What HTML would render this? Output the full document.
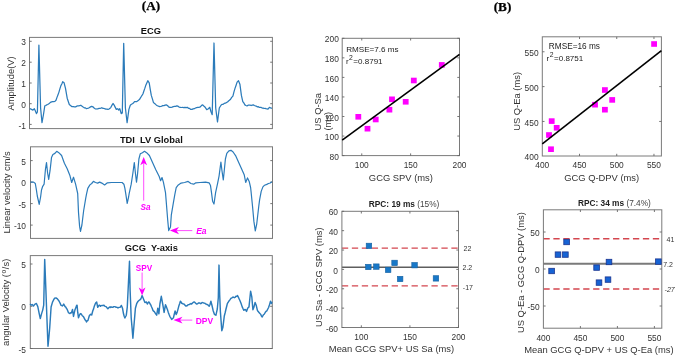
<!DOCTYPE html>
<html><head><meta charset="utf-8"><title>Figure</title>
<style>html,body{margin:0;padding:0;background:#fff;width:675px;height:357px;overflow:hidden}svg{display:block;will-change:transform}</style>
</head><body>
<svg width="675" height="357" viewBox="0 0 675 357">
<rect width="675" height="357" fill="#ffffff"/>
<text x="151.0" y="9.6" font-family='"Liberation Serif", serif' font-size="13.2" text-anchor="middle" font-weight="bold" font-style="normal" fill="#000" stroke="#000" stroke-width="0.25">(A)</text>
<text x="502.5" y="11.3" font-family='"Liberation Serif", serif' font-size="13.2" text-anchor="middle" font-weight="bold" font-style="normal" fill="#000" stroke="#000" stroke-width="0.25">(B)</text>
<rect x="29.5" y="37.4" width="242.90" height="91.20" fill="none" stroke="#7a7a7a" stroke-width="1.0"/>
<line x1="29.5" y1="124.4" x2="31.7" y2="124.4" stroke="#666" stroke-width="0.9"/>
<line x1="272.4" y1="124.4" x2="270.2" y2="124.4" stroke="#666" stroke-width="0.9"/>
<line x1="29.5" y1="103.7" x2="31.7" y2="103.7" stroke="#666" stroke-width="0.9"/>
<line x1="272.4" y1="103.7" x2="270.2" y2="103.7" stroke="#666" stroke-width="0.9"/>
<line x1="29.5" y1="83.0" x2="31.7" y2="83.0" stroke="#666" stroke-width="0.9"/>
<line x1="272.4" y1="83.0" x2="270.2" y2="83.0" stroke="#666" stroke-width="0.9"/>
<line x1="29.5" y1="62.2" x2="31.7" y2="62.2" stroke="#666" stroke-width="0.9"/>
<line x1="272.4" y1="62.2" x2="270.2" y2="62.2" stroke="#666" stroke-width="0.9"/>
<line x1="29.5" y1="41.3" x2="31.7" y2="41.3" stroke="#666" stroke-width="0.9"/>
<line x1="272.4" y1="41.3" x2="270.2" y2="41.3" stroke="#666" stroke-width="0.9"/>
<text x="26.0" y="128.5" font-family='"Liberation Sans", sans-serif' font-size="8.4" text-anchor="end" font-weight="normal" font-style="normal" fill="#333333" >-1</text>
<text x="26.0" y="107.8" font-family='"Liberation Sans", sans-serif' font-size="8.4" text-anchor="end" font-weight="normal" font-style="normal" fill="#333333" >0</text>
<text x="26.0" y="87.1" font-family='"Liberation Sans", sans-serif' font-size="8.4" text-anchor="end" font-weight="normal" font-style="normal" fill="#333333" >1</text>
<text x="26.0" y="66.3" font-family='"Liberation Sans", sans-serif' font-size="8.4" text-anchor="end" font-weight="normal" font-style="normal" fill="#333333" >2</text>
<text x="26.0" y="45.4" font-family='"Liberation Sans", sans-serif' font-size="8.4" text-anchor="end" font-weight="normal" font-style="normal" fill="#333333" >3</text>
<text x="150.8" y="33.6" font-family='"Liberation Sans", sans-serif' font-size="9.3" text-anchor="middle" font-weight="bold" font-style="normal" fill="#111" >ECG</text>
<text transform="translate(13.9,83.4) rotate(-90)" x="0" y="0" font-family='"Liberation Sans", sans-serif' font-size="9.4" text-anchor="middle" fill="#333333" >Amplitude(V)</text>
<polyline points="29.7,108.7 30.6,108.9 31.5,109.4 32.9,110.1 34.3,108.7 35.3,110.8 36.4,113.6 37.4,112.0 38.9,45.1 40.6,108.0 42.0,122.7 43.4,115.0 44.8,105.9 45.7,105.5 46.7,104.9 47.6,104.5 48.5,103.9 49.5,103.2 50.4,102.4 51.6,101.9 52.7,101.6 53.9,101.7 55.0,101.2 56.0,100.3 56.9,97.6 57.9,95.0 58.8,92.6 59.8,89.1 60.9,85.6 61.8,84.0 62.7,81.7 64.1,82.8 65.5,88.4 67.2,98.2 68.2,101.3 69.3,104.5 70.2,105.2 71.2,106.1 72.1,106.6 73.3,106.7 74.4,106.9 75.6,106.9 76.7,106.2 77.7,105.9 78.7,105.8 79.8,105.7 80.8,105.2 81.7,105.9 82.7,106.8 83.6,107.3 84.5,107.9 85.5,107.9 86.4,108.7 87.3,108.5 88.3,108.1 89.2,107.7 90.5,106.9 91.7,106.3 92.9,106.8 94.1,108.0 95.2,108.8 96.2,109.0 97.1,108.8 98.1,108.8 99.0,108.4 99.9,108.4 100.9,108.1 101.8,107.7 102.7,108.3 103.7,108.3 104.6,108.7 105.8,109.1 106.9,109.1 108.1,109.4 109.0,109.0 110.0,108.3 110.9,107.3 112.0,105.1 113.0,103.5 114.0,104.8 114.9,106.6 116.3,109.4 117.7,108.7 118.7,110.1 119.8,108.7 121.2,113.6 122.3,112.9 123.7,43.3 125.4,108.0 127.1,122.7 128.0,116.1 128.9,109.4 130.3,105.2 131.4,104.3 132.4,103.8 133.4,103.1 134.5,101.7 135.6,101.7 136.6,101.7 137.5,101.1 138.5,100.2 139.4,99.6 140.6,97.7 141.7,95.8 142.9,94.0 143.8,91.2 144.8,88.4 145.7,85.6 146.8,83.0 147.8,80.7 149.2,82.8 150.2,89.1 151.3,95.4 152.4,98.9 153.4,102.4 154.3,103.3 155.3,104.1 156.2,104.9 157.4,105.7 158.5,106.2 159.7,106.6 160.7,106.5 161.8,106.1 162.8,105.5 164.0,105.6 165.1,105.2 166.3,104.9 167.5,105.5 168.6,106.8 169.8,107.3 171.0,107.4 172.1,107.1 173.3,106.6 174.5,106.4 175.6,106.3 176.8,105.9 178.0,106.2 179.1,107.1 180.3,107.3 181.5,107.5 182.6,107.4 183.8,107.7 185.0,107.3 186.1,107.7 187.3,107.3 188.5,108.3 189.6,108.4 190.8,109.4 192.0,109.4 193.1,108.9 194.3,108.7 195.5,108.0 196.6,107.6 197.8,107.3 198.7,107.3 199.7,107.1 200.6,106.6 201.6,105.4 202.7,104.9 203.8,106.0 204.9,106.9 206.7,109.7 208.4,108.7 209.8,107.3 210.9,111.5 212.2,114.7 213.1,78.8 214.0,43.0 215.7,108.0 216.6,115.0 217.5,122.0 218.4,115.0 219.3,108.0 221.0,105.2 221.9,104.4 222.9,104.4 223.8,103.8 224.7,103.2 225.7,103.1 226.6,102.4 227.5,102.0 228.5,101.0 229.4,100.3 230.6,99.2 231.7,97.4 232.9,96.1 233.9,92.2 235.0,88.4 236.1,85.2 237.1,82.1 238.5,80.7 239.9,84.2 241.4,95.4 242.8,101.7 243.9,103.0 244.9,104.9 245.9,105.5 247.0,105.9 248.1,105.2 249.1,105.2 250.1,105.1 251.2,105.5 252.2,105.1 253.3,104.9 254.4,105.5 255.4,105.9 256.4,106.2 257.5,106.9 258.4,106.7 259.4,107.4 260.3,107.3 261.2,107.4 262.2,108.1 263.1,108.0 264.0,108.5 265.0,108.4 265.9,108.7 266.9,108.9 268.0,109.1 269.4,107.3 270.6,107.8 271.9,108.3" fill="none" stroke="#2b7bba" stroke-width="1.25" stroke-linejoin="round"/>
<rect x="30.5" y="146.8" width="242.00" height="91.60" fill="none" stroke="#7a7a7a" stroke-width="1.0"/>
<line x1="30.5" y1="160.6" x2="32.7" y2="160.6" stroke="#666" stroke-width="0.9"/>
<line x1="272.5" y1="160.6" x2="270.3" y2="160.6" stroke="#666" stroke-width="0.9"/>
<line x1="30.5" y1="182.1" x2="32.7" y2="182.1" stroke="#666" stroke-width="0.9"/>
<line x1="272.5" y1="182.1" x2="270.3" y2="182.1" stroke="#666" stroke-width="0.9"/>
<line x1="30.5" y1="203.6" x2="32.7" y2="203.6" stroke="#666" stroke-width="0.9"/>
<line x1="272.5" y1="203.6" x2="270.3" y2="203.6" stroke="#666" stroke-width="0.9"/>
<line x1="30.5" y1="225.1" x2="32.7" y2="225.1" stroke="#666" stroke-width="0.9"/>
<line x1="272.5" y1="225.1" x2="270.3" y2="225.1" stroke="#666" stroke-width="0.9"/>
<text x="26.0" y="164.7" font-family='"Liberation Sans", sans-serif' font-size="8.4" text-anchor="end" font-weight="normal" font-style="normal" fill="#333333" >5</text>
<text x="26.0" y="186.2" font-family='"Liberation Sans", sans-serif' font-size="8.4" text-anchor="end" font-weight="normal" font-style="normal" fill="#333333" >0</text>
<text x="26.0" y="207.7" font-family='"Liberation Sans", sans-serif' font-size="8.4" text-anchor="end" font-weight="normal" font-style="normal" fill="#333333" >-5</text>
<text x="26.0" y="229.2" font-family='"Liberation Sans", sans-serif' font-size="8.4" text-anchor="end" font-weight="normal" font-style="normal" fill="#333333" >-10</text>
<text x="151.3" y="142.6" font-family='"Liberation Sans", sans-serif' font-size="9.3" text-anchor="middle" font-weight="bold" font-style="normal" fill="#111" >TDI&#160; LV Global</text>
<text transform="translate(10.2,192.4) rotate(-90)" x="0" y="0" font-family='"Liberation Sans", sans-serif' font-size="9.4" text-anchor="middle" fill="#333333" >Linear velocity cm/s</text>
<polyline points="30.5,182.1 33.6,182.1 35.3,183.5 36.4,189.8 37.3,196.0 39.2,204.3 40.6,197.0 41.5,190.0 42.7,186.3 44.1,184.2 45.5,168.8 46.5,162.5 47.6,173.0 48.7,179.3 50.1,170.2 51.5,157.6 52.9,154.5 54.9,153.4 56.7,151.3 58.8,152.7 61.6,155.5 64.4,163.2 67.2,168.8 70.0,175.8 71.7,182.5 73.5,177.2 75.6,184.2 77.7,193.5 78.5,212.4 79.6,226.4 80.5,231.3 81.9,225.0 83.6,211.0 85.7,198.4 86.4,194.7 87.8,188.4 89.9,184.9 91.7,183.5 93.4,181.4 95.5,182.5 97.6,183.1 99.7,182.1 101.8,183.1 104.6,184.9 107.4,182.8 111.6,182.5 117.2,182.5 122.1,182.5 123.9,184.2 124.9,188.4 125.9,194.7 127.2,203.4 128.6,197.0 129.2,193.4 131.2,184.2 132.9,173.0 134.3,162.5 135.4,173.0 136.5,182.1 137.5,174.4 138.9,159.0 140.3,153.7 142.4,152.7 144.5,151.3 146.6,152.7 149.4,155.5 152.2,161.8 155.7,169.5 159.2,176.5 160.6,180.7 162.0,177.5 163.4,182.1 165.5,192.6 166.5,205.0 167.7,220.0 168.7,230.6 170.5,227.0 171.3,215.2 173.4,202.6 174.8,194.7 176.2,187.7 178.3,184.9 181.1,183.1 184.6,182.5 188.1,181.4 190.9,183.5 193.7,184.2 195.8,182.8 200.0,182.5 205.6,182.1 209.1,182.8 210.5,185.6 211.5,192.6 212.6,201.2 214.0,204.0 215.6,192.6 217.7,182.8 219.1,175.8 220.9,162.1 221.9,170.2 223.3,180.0 224.3,170.2 225.4,159.0 226.8,153.4 228.9,150.9 231.0,150.3 233.1,152.0 235.9,156.2 238.7,162.5 242.2,170.2 244.3,175.1 245.7,182.5 247.5,177.9 249.2,181.4 250.6,187.5 251.1,192.0 252.5,206.0 253.9,221.4 255.3,230.9 256.7,224.2 258.8,206.0 259.6,199.8 261.2,191.4 262.9,186.9 264.6,185.2 266.8,184.4 268.5,183.5 270.2,183.0 271.9,181.8" fill="none" stroke="#2b7bba" stroke-width="1.2" stroke-linejoin="round"/>
<line x1="143.7" y1="200.6" x2="143.7" y2="162.9" stroke="#ff00ff" stroke-width="0.7"/>
<polygon points="143.7,156.9 140.29999999999998,165.3 143.7,162.9 147.1,165.3" fill="#ff00ff"/>
<text x="145.6" y="209.9" font-family='"Liberation Sans", sans-serif' font-size="8.2" text-anchor="middle" font-weight="bold" font-style="italic" fill="#ff00ff" >Sa</text>
<line x1="192.3" y1="230.6" x2="176.5" y2="230.6" stroke="#ff00ff" stroke-width="0.7"/>
<polygon points="169.9,230.6 179.0,227.0 176.5,230.6 179.0,234.2" fill="#ff00ff"/>
<text x="201.4" y="233.9" font-family='"Liberation Sans", sans-serif' font-size="8.5" text-anchor="middle" font-weight="bold" font-style="italic" fill="#ff00ff" >Ea</text>
<rect x="30.3" y="255.6" width="242.00" height="92.90" fill="none" stroke="#7a7a7a" stroke-width="1.0"/>
<line x1="30.3" y1="264.0" x2="32.5" y2="264.0" stroke="#666" stroke-width="0.9"/>
<line x1="272.3" y1="264.0" x2="270.1" y2="264.0" stroke="#666" stroke-width="0.9"/>
<line x1="30.3" y1="306.3" x2="32.5" y2="306.3" stroke="#666" stroke-width="0.9"/>
<line x1="272.3" y1="306.3" x2="270.1" y2="306.3" stroke="#666" stroke-width="0.9"/>
<line x1="30.3" y1="348.5" x2="32.5" y2="348.5" stroke="#666" stroke-width="0.9"/>
<line x1="272.3" y1="348.5" x2="270.1" y2="348.5" stroke="#666" stroke-width="0.9"/>
<text x="26.0" y="268.1" font-family='"Liberation Sans", sans-serif' font-size="8.4" text-anchor="end" font-weight="normal" font-style="normal" fill="#333333" >5</text>
<text x="26.0" y="310.40000000000003" font-family='"Liberation Sans", sans-serif' font-size="8.4" text-anchor="end" font-weight="normal" font-style="normal" fill="#333333" >0</text>
<text x="26.0" y="352.6" font-family='"Liberation Sans", sans-serif' font-size="8.4" text-anchor="end" font-weight="normal" font-style="normal" fill="#333333" >-5</text>
<text x="151.3" y="251.3" font-family='"Liberation Sans", sans-serif' font-size="9.3" text-anchor="middle" font-weight="bold" font-style="normal" fill="#111" >GCG&#160; Y-axis</text>
<text transform="translate(9.0,302.4) rotate(-90)" x="0" y="0" font-family='"Liberation Sans", sans-serif' font-size="9.4" text-anchor="middle" fill="#333333" >angular Velocity (<tspan font-size="6.6" dx="0.7" dy="-3.2">o</tspan><tspan dx="0.6" dy="3.2">/s)</tspan></text>
<polyline points="30.1,303.8 31.1,305.2 32.2,304.5 33.6,305.9 35.0,304.1 36.4,303.5 37.8,306.6 38.5,310.1 39.2,313.6 40.3,318.5 41.6,313.6 42.7,310.1 43.7,305.2 44.7,259.4 45.9,290.0 46.8,315.0 48.0,346.2 48.9,337.1 49.7,328.0 51.1,307.0 52.5,302.1 53.2,300.7 54.6,298.2 56.0,297.9 57.4,298.9 58.8,300.7 59.5,302.0 60.2,303.3 60.9,305.2 62.3,305.9 63.0,305.2 63.7,304.1 65.1,306.6 65.8,307.1 66.5,308.5 67.2,309.4 68.6,312.9 69.3,313.1 70.0,313.6 70.7,312.8 71.4,312.9 72.5,309.4 73.5,316.4 74.2,313.2 74.9,310.1 75.8,307.7 76.7,305.2 77.1,305.2 77.7,312.2 78.5,317.8 79.5,315.0 80.2,313.8 80.9,313.6 82.3,315.7 83.0,316.3 83.7,317.1 85.1,319.9 85.8,320.5 86.5,322.0 87.2,320.8 87.9,320.6 89.3,315.7 90.0,314.9 90.7,314.3 91.7,315.0 92.8,310.8 93.5,309.1 94.2,306.6 95.6,303.1 96.7,302.1 97.7,307.3 99.1,305.2 99.8,305.3 100.5,306.3 101.2,305.6 101.9,305.5 103.0,305.5 104.0,305.2 105.0,306.4 106.1,306.6 107.0,307.7 107.9,308.7 108.8,307.7 109.6,306.9 110.3,307.6 111.0,306.7 111.7,307.3 112.8,307.3 113.8,306.6 114.5,306.6 115.2,306.7 115.9,307.3 117.0,307.2 118.0,308.0 119.0,307.4 120.1,307.3 121.4,305.4 122.5,308.2 123.5,313.8 124.2,316.2 124.9,318.0 126.3,315.2 127.3,306.8 128.1,290.0 128.8,275.6 129.5,261.3 130.1,290.0 131.2,318.0 132.1,328.1 132.9,338.3 134.0,325.0 134.7,316.6 135.4,308.2 136.1,305.8 136.8,303.3 137.9,301.5 138.9,300.5 139.8,299.9 140.7,299.1 141.4,297.5 142.1,295.6 142.9,297.6 143.8,299.8 144.9,302.6 145.6,302.3 146.3,301.9 147.3,304.0 148.7,301.9 149.4,302.5 150.1,304.0 150.8,304.9 151.5,306.8 152.2,308.2 152.9,310.3 153.6,311.2 154.3,311.7 155.7,313.8 156.7,315.2 157.8,308.2 158.9,313.8 159.9,304.0 160.6,300.1 161.3,296.3 162.7,304.0 163.4,308.2 164.1,312.4 164.8,308.5 165.5,304.7 166.2,306.4 166.9,308.2 167.6,310.1 168.3,312.4 169.1,314.6 169.9,316.6 170.8,317.9 171.7,319.4 172.6,318.5 173.4,318.0 174.2,314.5 175.1,311.0 176.2,314.5 177.1,312.4 177.9,309.6 179.0,305.4 179.7,303.5 180.4,301.2 181.1,302.0 181.8,303.3 182.9,303.7 183.9,304.0 184.9,305.1 186.0,306.1 187.1,305.8 188.1,304.7 189.1,304.6 190.2,304.0 190.9,303.5 191.6,304.1 192.3,303.3 193.4,302.2 194.4,301.9 195.4,302.9 196.5,304.0 197.6,303.7 198.6,302.9 199.6,302.9 200.7,303.7 201.4,303.3 202.1,302.5 202.8,302.6 203.9,303.1 204.9,303.3 205.7,304.0 206.4,304.1 207.1,304.5 207.8,304.8 209.2,306.2 210.1,304.2 210.9,301.3 212.0,305.5 213.1,310.4 213.8,312.5 214.5,314.6 215.2,314.7 215.9,315.3 216.6,312.1 217.3,309.0 218.3,297.8 219.0,265.1 219.7,295.0 220.4,311.8 221.1,321.2 221.8,330.7 222.9,327.2 223.6,321.6 224.3,316.0 225.2,312.5 226.0,309.0 226.7,306.2 227.4,303.4 228.1,302.5 228.8,301.2 229.9,299.9 230.9,298.4 231.9,297.8 233.0,297.0 233.7,297.3 234.4,297.7 235.1,297.4 235.8,296.3 236.7,296.4 237.5,295.6 238.6,297.7 239.3,299.2 240.0,300.7 241.1,303.5 242.2,306.9 243.1,308.8 243.9,310.3 244.8,309.5 245.6,309.7 246.5,311.4 247.8,308.0 249.0,306.9 249.8,299.0 250.6,291.2 251.8,296.8 252.9,309.7 254.0,306.9 255.1,302.4 256.2,305.2 257.4,310.3 258.2,311.6 259.0,312.5 259.9,313.5 260.7,314.2 261.4,316.1 262.2,317.0 263.5,314.7 264.4,314.0 265.2,312.5 266.0,311.4 266.9,310.8 267.8,309.0 268.6,307.5 269.7,304.1 270.5,301.3 271.4,303.5 271.9,301.8" fill="none" stroke="#2b7bba" stroke-width="1.45" stroke-linejoin="round"/>
<line x1="142.1" y1="272.5" x2="142.1" y2="289.8" stroke="#ff00ff" stroke-width="0.7"/>
<polygon points="142.1,295.6 138.7,287.6 142.1,289.8 145.5,287.6" fill="#ff00ff"/>
<text x="144.0" y="271.1" font-family='"Liberation Sans", sans-serif' font-size="8.2" text-anchor="middle" font-weight="bold" font-style="normal" fill="#ff00ff" >SPV</text>
<line x1="192.3" y1="320.1" x2="180.0" y2="320.1" stroke="#ff00ff" stroke-width="0.7"/>
<polygon points="173.4,320.1 182.5,316.70000000000005 180.0,320.1 182.5,323.5" fill="#ff00ff"/>
<text x="204.4" y="324.3" font-family='"Liberation Sans", sans-serif' font-size="8.5" text-anchor="middle" font-weight="bold" font-style="normal" fill="#ff00ff" >DPV</text>
<rect x="342.2" y="38.3" width="117.30" height="117.30" fill="none" stroke="#7a7a7a" stroke-width="1.0"/>
<line x1="342.2" y1="155.6" x2="344.4" y2="155.6" stroke="#666" stroke-width="0.9"/>
<line x1="459.5" y1="155.6" x2="457.3" y2="155.6" stroke="#666" stroke-width="0.9"/>
<line x1="342.2" y1="136.04999999999998" x2="344.4" y2="136.04999999999998" stroke="#666" stroke-width="0.9"/>
<line x1="459.5" y1="136.04999999999998" x2="457.3" y2="136.04999999999998" stroke="#666" stroke-width="0.9"/>
<line x1="342.2" y1="116.5" x2="344.4" y2="116.5" stroke="#666" stroke-width="0.9"/>
<line x1="459.5" y1="116.5" x2="457.3" y2="116.5" stroke="#666" stroke-width="0.9"/>
<line x1="342.2" y1="96.94999999999999" x2="344.4" y2="96.94999999999999" stroke="#666" stroke-width="0.9"/>
<line x1="459.5" y1="96.94999999999999" x2="457.3" y2="96.94999999999999" stroke="#666" stroke-width="0.9"/>
<line x1="342.2" y1="77.39999999999999" x2="344.4" y2="77.39999999999999" stroke="#666" stroke-width="0.9"/>
<line x1="459.5" y1="77.39999999999999" x2="457.3" y2="77.39999999999999" stroke="#666" stroke-width="0.9"/>
<line x1="342.2" y1="57.849999999999994" x2="344.4" y2="57.849999999999994" stroke="#666" stroke-width="0.9"/>
<line x1="459.5" y1="57.849999999999994" x2="457.3" y2="57.849999999999994" stroke="#666" stroke-width="0.9"/>
<line x1="342.2" y1="38.3" x2="344.4" y2="38.3" stroke="#666" stroke-width="0.9"/>
<line x1="459.5" y1="38.3" x2="457.3" y2="38.3" stroke="#666" stroke-width="0.9"/>
<text x="338.8" y="159.7" font-family='"Liberation Sans", sans-serif' font-size="8.4" text-anchor="end" font-weight="normal" font-style="normal" fill="#333333" >80</text>
<text x="338.8" y="140.14999999999998" font-family='"Liberation Sans", sans-serif' font-size="8.4" text-anchor="end" font-weight="normal" font-style="normal" fill="#333333" >100</text>
<text x="338.8" y="120.6" font-family='"Liberation Sans", sans-serif' font-size="8.4" text-anchor="end" font-weight="normal" font-style="normal" fill="#333333" >120</text>
<text x="338.8" y="101.04999999999998" font-family='"Liberation Sans", sans-serif' font-size="8.4" text-anchor="end" font-weight="normal" font-style="normal" fill="#333333" >140</text>
<text x="338.8" y="81.49999999999999" font-family='"Liberation Sans", sans-serif' font-size="8.4" text-anchor="end" font-weight="normal" font-style="normal" fill="#333333" >160</text>
<text x="338.8" y="61.949999999999996" font-family='"Liberation Sans", sans-serif' font-size="8.4" text-anchor="end" font-weight="normal" font-style="normal" fill="#333333" >180</text>
<text x="338.8" y="42.4" font-family='"Liberation Sans", sans-serif' font-size="8.4" text-anchor="end" font-weight="normal" font-style="normal" fill="#333333" >200</text>
<line x1="361.75" y1="155.6" x2="361.75" y2="153.4" stroke="#666" stroke-width="0.9"/>
<line x1="361.75" y1="38.3" x2="361.75" y2="40.5" stroke="#666" stroke-width="0.9"/>
<line x1="410.625" y1="155.6" x2="410.625" y2="153.4" stroke="#666" stroke-width="0.9"/>
<line x1="410.625" y1="38.3" x2="410.625" y2="40.5" stroke="#666" stroke-width="0.9"/>
<line x1="459.5" y1="155.6" x2="459.5" y2="153.4" stroke="#666" stroke-width="0.9"/>
<line x1="459.5" y1="38.3" x2="459.5" y2="40.5" stroke="#666" stroke-width="0.9"/>
<text x="361.75" y="167.9" font-family='"Liberation Sans", sans-serif' font-size="8.4" text-anchor="middle" font-weight="normal" font-style="normal" fill="#333333" >100</text>
<text x="410.625" y="167.9" font-family='"Liberation Sans", sans-serif' font-size="8.4" text-anchor="middle" font-weight="normal" font-style="normal" fill="#333333" >150</text>
<text x="459.5" y="167.9" font-family='"Liberation Sans", sans-serif' font-size="8.4" text-anchor="middle" font-weight="normal" font-style="normal" fill="#333333" >200</text>
<text x="400.9" y="180.8" font-family='"Liberation Sans", sans-serif' font-size="9.4" text-anchor="middle" font-weight="normal" font-style="normal" fill="#333333" >GCG SPV (ms)</text>
<text transform="translate(320.7,130.5) rotate(-90)" x="0" y="0" font-family='"Liberation Sans", sans-serif' font-size="9.4" text-anchor="start" fill="#333333" >US Q-Sa</text>
<text transform="translate(330.6,130.5) rotate(-90)" x="0" y="0" font-family='"Liberation Sans", sans-serif' font-size="9.4" text-anchor="start" fill="#333333" >(ms)</text>
<rect x="355.4" y="114.0" width="5.8" height="5.6" fill="#ff00ff"/>
<rect x="364.6" y="125.9" width="5.8" height="5.6" fill="#ff00ff"/>
<rect x="372.8" y="116.7" width="5.8" height="5.6" fill="#ff00ff"/>
<rect x="386.5" y="106.9" width="5.8" height="5.6" fill="#ff00ff"/>
<rect x="389.1" y="96.5" width="5.8" height="5.6" fill="#ff00ff"/>
<rect x="402.8" y="99.0" width="5.8" height="5.6" fill="#ff00ff"/>
<rect x="410.9" y="77.7" width="5.8" height="5.6" fill="#ff00ff"/>
<rect x="438.9" y="62.1" width="5.8" height="5.6" fill="#ff00ff"/>
<line x1="342.2" y1="140.1" x2="459.5" y2="54.3" stroke="#000" stroke-width="1.6"/>
<text x="346.2" y="51.7" font-family='"Liberation Sans", sans-serif' font-size="8.1" text-anchor="start" font-weight="normal" font-style="normal" fill="#222" >RMSE=7.6 ms</text>
<text x="345.9" y="64.4" font-family='"Liberation Sans", sans-serif' font-size="8.1" text-anchor="start" font-weight="normal" font-style="normal" fill="#222" >r<tspan font-size="6.8" dx="0.4" dy="-4.0">2</tspan><tspan font-size="8.05" dx="0.5" dy="4.0">=0.8791</tspan></text>
<line x1="341.9" y1="248.1" x2="458.5" y2="248.1" stroke="#d4464f" stroke-width="1.35" stroke-dasharray="6.3,3.65"/>
<line x1="341.9" y1="285.9" x2="458.5" y2="285.9" stroke="#d4464f" stroke-width="1.35" stroke-dasharray="6.3,3.65"/>
<line x1="341.9" y1="267.3" x2="458.5" y2="267.3" stroke="#5e5e5e" stroke-width="1.4"/>
<rect x="341.9" y="211.3" width="116.60" height="116.20" fill="none" stroke="#7a7a7a" stroke-width="1.0"/>
<line x1="341.9" y1="211.29999999999998" x2="344.09999999999997" y2="211.29999999999998" stroke="#666" stroke-width="0.9"/>
<line x1="458.5" y1="211.29999999999998" x2="456.3" y2="211.29999999999998" stroke="#666" stroke-width="0.9"/>
<line x1="341.9" y1="230.66666666666663" x2="344.09999999999997" y2="230.66666666666663" stroke="#666" stroke-width="0.9"/>
<line x1="458.5" y1="230.66666666666663" x2="456.3" y2="230.66666666666663" stroke="#666" stroke-width="0.9"/>
<line x1="341.9" y1="250.0333333333333" x2="344.09999999999997" y2="250.0333333333333" stroke="#666" stroke-width="0.9"/>
<line x1="458.5" y1="250.0333333333333" x2="456.3" y2="250.0333333333333" stroke="#666" stroke-width="0.9"/>
<line x1="341.9" y1="269.4" x2="344.09999999999997" y2="269.4" stroke="#666" stroke-width="0.9"/>
<line x1="458.5" y1="269.4" x2="456.3" y2="269.4" stroke="#666" stroke-width="0.9"/>
<line x1="341.9" y1="288.76666666666665" x2="344.09999999999997" y2="288.76666666666665" stroke="#666" stroke-width="0.9"/>
<line x1="458.5" y1="288.76666666666665" x2="456.3" y2="288.76666666666665" stroke="#666" stroke-width="0.9"/>
<line x1="341.9" y1="308.1333333333333" x2="344.09999999999997" y2="308.1333333333333" stroke="#666" stroke-width="0.9"/>
<line x1="458.5" y1="308.1333333333333" x2="456.3" y2="308.1333333333333" stroke="#666" stroke-width="0.9"/>
<line x1="341.9" y1="327.5" x2="344.09999999999997" y2="327.5" stroke="#666" stroke-width="0.9"/>
<line x1="458.5" y1="327.5" x2="456.3" y2="327.5" stroke="#666" stroke-width="0.9"/>
<text x="338.0" y="215.39999999999998" font-family='"Liberation Sans", sans-serif' font-size="8.4" text-anchor="end" font-weight="normal" font-style="normal" fill="#333333" >60</text>
<text x="338.0" y="234.76666666666662" font-family='"Liberation Sans", sans-serif' font-size="8.4" text-anchor="end" font-weight="normal" font-style="normal" fill="#333333" >40</text>
<text x="338.0" y="254.1333333333333" font-family='"Liberation Sans", sans-serif' font-size="8.4" text-anchor="end" font-weight="normal" font-style="normal" fill="#333333" >20</text>
<text x="338.0" y="273.5" font-family='"Liberation Sans", sans-serif' font-size="8.4" text-anchor="end" font-weight="normal" font-style="normal" fill="#333333" >0</text>
<text x="338.0" y="292.8666666666667" font-family='"Liberation Sans", sans-serif' font-size="8.4" text-anchor="end" font-weight="normal" font-style="normal" fill="#333333" >-20</text>
<text x="338.0" y="312.23333333333335" font-family='"Liberation Sans", sans-serif' font-size="8.4" text-anchor="end" font-weight="normal" font-style="normal" fill="#333333" >-40</text>
<text x="338.0" y="331.6" font-family='"Liberation Sans", sans-serif' font-size="8.4" text-anchor="end" font-weight="normal" font-style="normal" fill="#333333" >-60</text>
<line x1="361.3333333333333" y1="327.5" x2="361.3333333333333" y2="325.3" stroke="#666" stroke-width="0.9"/>
<line x1="361.3333333333333" y1="211.3" x2="361.3333333333333" y2="213.5" stroke="#666" stroke-width="0.9"/>
<line x1="409.91666666666663" y1="327.5" x2="409.91666666666663" y2="325.3" stroke="#666" stroke-width="0.9"/>
<line x1="409.91666666666663" y1="211.3" x2="409.91666666666663" y2="213.5" stroke="#666" stroke-width="0.9"/>
<line x1="458.5" y1="327.5" x2="458.5" y2="325.3" stroke="#666" stroke-width="0.9"/>
<line x1="458.5" y1="211.3" x2="458.5" y2="213.5" stroke="#666" stroke-width="0.9"/>
<text x="361.3333333333333" y="339.9" font-family='"Liberation Sans", sans-serif' font-size="8.4" text-anchor="middle" font-weight="normal" font-style="normal" fill="#333333" >100</text>
<text x="409.91666666666663" y="339.9" font-family='"Liberation Sans", sans-serif' font-size="8.4" text-anchor="middle" font-weight="normal" font-style="normal" fill="#333333" >150</text>
<text x="458.5" y="339.9" font-family='"Liberation Sans", sans-serif' font-size="8.4" text-anchor="middle" font-weight="normal" font-style="normal" fill="#333333" >200</text>
<rect x="366.2" y="243.2" width="5.5" height="5.4" fill="#1878c8" stroke="#16609f" stroke-width="0.6"/>
<rect x="365.6" y="264.3" width="5.5" height="5.4" fill="#1878c8" stroke="#16609f" stroke-width="0.6"/>
<rect x="373.6" y="263.9" width="5.5" height="5.4" fill="#1878c8" stroke="#16609f" stroke-width="0.6"/>
<rect x="385.4" y="267.2" width="5.5" height="5.4" fill="#1878c8" stroke="#16609f" stroke-width="0.6"/>
<rect x="391.8" y="260.2" width="5.5" height="5.4" fill="#1878c8" stroke="#16609f" stroke-width="0.6"/>
<rect x="397.4" y="276.3" width="5.5" height="5.4" fill="#1878c8" stroke="#16609f" stroke-width="0.6"/>
<rect x="411.8" y="262.5" width="5.5" height="5.4" fill="#1878c8" stroke="#16609f" stroke-width="0.6"/>
<rect x="433.2" y="275.7" width="5.5" height="5.4" fill="#1878c8" stroke="#16609f" stroke-width="0.6"/>
<text x="463.6" y="251.1" font-family='"Liberation Sans", sans-serif' font-size="7.0" text-anchor="start" font-weight="normal" font-style="normal" fill="#333333" >22</text>
<text x="462.5" y="270.0" font-family='"Liberation Sans", sans-serif' font-size="7.0" text-anchor="start" font-weight="normal" font-style="normal" fill="#333333" >2.2</text>
<text x="462.8" y="290.1" font-family='"Liberation Sans", sans-serif' font-size="7.0" text-anchor="start" font-weight="normal" font-style="normal" fill="#333333" >-17</text>
<text x="391.5" y="352.2" font-family='"Liberation Sans", sans-serif' font-size="9.4" text-anchor="middle" font-weight="normal" font-style="normal" fill="#333333" >Mean GCG SPV+ US Sa (ms)</text>
<text transform="translate(321.6,277.2) rotate(-90)" x="0" y="0" font-family='"Liberation Sans", sans-serif' font-size="9.4" text-anchor="middle" fill="#333333" >US Sa - GCG SPV (ms)</text>
<text x="368.8" y="207.3" font-family='"Liberation Sans", sans-serif' font-size="8.3" fill="#222"><tspan font-weight="bold">RPC: 19 ms</tspan> <tspan fill="#444">(15%)</tspan></text>
<rect x="542.3" y="36.8" width="119.10" height="119.20" fill="none" stroke="#7a7a7a" stroke-width="1.0"/>
<line x1="542.3" y1="121.45000000000002" x2="544.5" y2="121.45000000000002" stroke="#666" stroke-width="0.9"/>
<line x1="661.4" y1="121.45000000000002" x2="659.1999999999999" y2="121.45000000000002" stroke="#666" stroke-width="0.9"/>
<line x1="542.3" y1="86.60000000000002" x2="544.5" y2="86.60000000000002" stroke="#666" stroke-width="0.9"/>
<line x1="661.4" y1="86.60000000000002" x2="659.1999999999999" y2="86.60000000000002" stroke="#666" stroke-width="0.9"/>
<line x1="542.3" y1="51.750000000000014" x2="544.5" y2="51.750000000000014" stroke="#666" stroke-width="0.9"/>
<line x1="661.4" y1="51.750000000000014" x2="659.1999999999999" y2="51.750000000000014" stroke="#666" stroke-width="0.9"/>
<text x="538.6" y="160.4" font-family='"Liberation Sans", sans-serif' font-size="8.4" text-anchor="end" font-weight="normal" font-style="normal" fill="#333333" >400</text>
<text x="538.6" y="125.55000000000001" font-family='"Liberation Sans", sans-serif' font-size="8.4" text-anchor="end" font-weight="normal" font-style="normal" fill="#333333" >450</text>
<text x="538.6" y="90.70000000000002" font-family='"Liberation Sans", sans-serif' font-size="8.4" text-anchor="end" font-weight="normal" font-style="normal" fill="#333333" >500</text>
<text x="538.6" y="55.850000000000016" font-family='"Liberation Sans", sans-serif' font-size="8.4" text-anchor="end" font-weight="normal" font-style="normal" fill="#333333" >550</text>
<line x1="579.51875" y1="156.0" x2="579.51875" y2="153.8" stroke="#666" stroke-width="0.9"/>
<line x1="579.51875" y1="36.8" x2="579.51875" y2="39.0" stroke="#666" stroke-width="0.9"/>
<line x1="616.7375" y1="156.0" x2="616.7375" y2="153.8" stroke="#666" stroke-width="0.9"/>
<line x1="616.7375" y1="36.8" x2="616.7375" y2="39.0" stroke="#666" stroke-width="0.9"/>
<line x1="653.95625" y1="156.0" x2="653.95625" y2="153.8" stroke="#666" stroke-width="0.9"/>
<line x1="653.95625" y1="36.8" x2="653.95625" y2="39.0" stroke="#666" stroke-width="0.9"/>
<text x="542.3" y="168.3" font-family='"Liberation Sans", sans-serif' font-size="8.4" text-anchor="middle" font-weight="normal" font-style="normal" fill="#333333" >400</text>
<text x="579.51875" y="168.3" font-family='"Liberation Sans", sans-serif' font-size="8.4" text-anchor="middle" font-weight="normal" font-style="normal" fill="#333333" >450</text>
<text x="616.7375" y="168.3" font-family='"Liberation Sans", sans-serif' font-size="8.4" text-anchor="middle" font-weight="normal" font-style="normal" fill="#333333" >500</text>
<text x="653.95625" y="168.3" font-family='"Liberation Sans", sans-serif' font-size="8.4" text-anchor="middle" font-weight="normal" font-style="normal" fill="#333333" >550</text>
<text x="601.7" y="180.8" font-family='"Liberation Sans", sans-serif' font-size="9.4" text-anchor="middle" font-weight="normal" font-style="normal" fill="#333333" >GCG Q-DPV (ms)</text>
<text transform="translate(520.0,130.8) rotate(-90)" x="0" y="0" font-family='"Liberation Sans", sans-serif' font-size="9.4" text-anchor="start" fill="#333333" >US Q-Ea (ms)</text>
<rect x="546.1" y="132.2" width="5.8" height="5.6" fill="#ff00ff"/>
<rect x="548.8" y="118.3" width="5.8" height="5.6" fill="#ff00ff"/>
<rect x="553.8" y="125.0" width="5.8" height="5.6" fill="#ff00ff"/>
<rect x="548.1" y="146.4" width="5.8" height="5.6" fill="#ff00ff"/>
<rect x="592.1" y="101.9" width="5.8" height="5.6" fill="#ff00ff"/>
<rect x="602.0" y="87.2" width="5.8" height="5.6" fill="#ff00ff"/>
<rect x="609.3" y="97.1" width="5.8" height="5.6" fill="#ff00ff"/>
<rect x="602.0" y="106.9" width="5.8" height="5.6" fill="#ff00ff"/>
<rect x="651.2" y="41.2" width="5.8" height="5.6" fill="#ff00ff"/>
<line x1="542.3" y1="143.8" x2="661.4" y2="50.7" stroke="#000" stroke-width="1.6"/>
<text x="548.8" y="48.6" font-family='"Liberation Sans", sans-serif' font-size="8.25" text-anchor="start" font-weight="normal" font-style="normal" fill="#222" >RMSE=16 ms</text>
<text x="546.6" y="61.4" font-family='"Liberation Sans", sans-serif' font-size="8.1" text-anchor="start" font-weight="normal" font-style="normal" fill="#222" >r<tspan font-size="6.8" dx="0.4" dy="-4.0">2</tspan><tspan font-size="8.05" dx="0.5" dy="4.0">=0.8751</tspan></text>
<line x1="543.4" y1="238.7" x2="661.8" y2="238.7" stroke="#d4464f" stroke-width="1.35" stroke-dasharray="6.3,3.65"/>
<line x1="543.4" y1="289.0" x2="661.8" y2="289.0" stroke="#d4464f" stroke-width="1.35" stroke-dasharray="6.3,3.65"/>
<line x1="543.4" y1="263.7" x2="661.8" y2="263.7" stroke="#7a7a7a" stroke-width="2.0"/>
<rect x="543.4" y="209.8" width="118.40" height="118.40" fill="none" stroke="#7a7a7a" stroke-width="1.0"/>
<line x1="543.4" y1="232.0" x2="545.6" y2="232.0" stroke="#666" stroke-width="0.9"/>
<line x1="661.8" y1="232.0" x2="659.5999999999999" y2="232.0" stroke="#666" stroke-width="0.9"/>
<line x1="543.4" y1="269.0" x2="545.6" y2="269.0" stroke="#666" stroke-width="0.9"/>
<line x1="661.8" y1="269.0" x2="659.5999999999999" y2="269.0" stroke="#666" stroke-width="0.9"/>
<line x1="543.4" y1="306.0" x2="545.6" y2="306.0" stroke="#666" stroke-width="0.9"/>
<line x1="661.8" y1="306.0" x2="659.5999999999999" y2="306.0" stroke="#666" stroke-width="0.9"/>
<text x="539.7" y="236.1" font-family='"Liberation Sans", sans-serif' font-size="8.4" text-anchor="end" font-weight="normal" font-style="normal" fill="#333333" >50</text>
<text x="539.7" y="273.1" font-family='"Liberation Sans", sans-serif' font-size="8.4" text-anchor="end" font-weight="normal" font-style="normal" fill="#333333" >0</text>
<text x="539.7" y="310.1" font-family='"Liberation Sans", sans-serif' font-size="8.4" text-anchor="end" font-weight="normal" font-style="normal" fill="#333333" >-50</text>
<line x1="580.4" y1="328.2" x2="580.4" y2="326.0" stroke="#666" stroke-width="0.9"/>
<line x1="580.4" y1="209.8" x2="580.4" y2="212.0" stroke="#666" stroke-width="0.9"/>
<line x1="617.4" y1="328.2" x2="617.4" y2="326.0" stroke="#666" stroke-width="0.9"/>
<line x1="617.4" y1="209.8" x2="617.4" y2="212.0" stroke="#666" stroke-width="0.9"/>
<line x1="654.4" y1="328.2" x2="654.4" y2="326.0" stroke="#666" stroke-width="0.9"/>
<line x1="654.4" y1="209.8" x2="654.4" y2="212.0" stroke="#666" stroke-width="0.9"/>
<text x="543.4" y="340.9" font-family='"Liberation Sans", sans-serif' font-size="8.4" text-anchor="middle" font-weight="normal" font-style="normal" fill="#333333" >400</text>
<text x="580.4" y="340.9" font-family='"Liberation Sans", sans-serif' font-size="8.4" text-anchor="middle" font-weight="normal" font-style="normal" fill="#333333" >450</text>
<text x="617.4" y="340.9" font-family='"Liberation Sans", sans-serif' font-size="8.4" text-anchor="middle" font-weight="normal" font-style="normal" fill="#333333" >500</text>
<text x="654.4" y="340.9" font-family='"Liberation Sans", sans-serif' font-size="8.4" text-anchor="middle" font-weight="normal" font-style="normal" fill="#333333" >550</text>
<rect x="563.8" y="239.3" width="5.6" height="5.4" fill="#1663d4" stroke="#1a3590" stroke-width="0.8"/>
<rect x="555.2" y="251.9" width="5.6" height="5.4" fill="#1663d4" stroke="#1a3590" stroke-width="0.8"/>
<rect x="562.6" y="251.9" width="5.6" height="5.4" fill="#1663d4" stroke="#1a3590" stroke-width="0.8"/>
<rect x="606.2" y="259.3" width="5.6" height="5.4" fill="#1663d4" stroke="#1a3590" stroke-width="0.8"/>
<rect x="655.6" y="258.9" width="5.6" height="5.4" fill="#1663d4" stroke="#1a3590" stroke-width="0.8"/>
<rect x="548.8" y="268.3" width="5.6" height="5.4" fill="#1663d4" stroke="#1a3590" stroke-width="0.8"/>
<rect x="593.8" y="264.9" width="5.6" height="5.4" fill="#1663d4" stroke="#1a3590" stroke-width="0.8"/>
<rect x="605.2" y="276.9" width="5.6" height="5.4" fill="#1663d4" stroke="#1a3590" stroke-width="0.8"/>
<rect x="596.2" y="279.9" width="5.6" height="5.4" fill="#1663d4" stroke="#1a3590" stroke-width="0.8"/>
<text x="666.5" y="241.6" font-family='"Liberation Sans", sans-serif' font-size="7.0" text-anchor="start" font-weight="normal" font-style="normal" fill="#333333" >41</text>
<text x="663.2" y="266.7" font-family='"Liberation Sans", sans-serif' font-size="7.0" text-anchor="start" font-weight="normal" font-style="normal" fill="#333333" >7.2</text>
<text x="664.6" y="291.7" font-family='"Liberation Sans", sans-serif' font-size="7.0" text-anchor="start" font-weight="normal" font-style="italic" fill="#333333" >-27</text>
<text x="598.9" y="353.2" font-family='"Liberation Sans", sans-serif' font-size="9.4" text-anchor="middle" font-weight="normal" font-style="normal" fill="#333333" >Mean GCG Q-DPV + US Q-Ea (ms)</text>
<text transform="translate(524.0,272.6) rotate(-90)" x="0" y="0" font-family='"Liberation Sans", sans-serif' font-size="9.4" text-anchor="middle" fill="#333333" >US Q-Ea - GCG Q-DPV (ms)</text>
<text x="578.0" y="205.9" font-family='"Liberation Sans", sans-serif' font-size="8.3" fill="#222"><tspan font-weight="bold">RPC: 34 ms</tspan> <tspan fill="#444">(7.4%)</tspan></text>
</svg>
</body></html>
